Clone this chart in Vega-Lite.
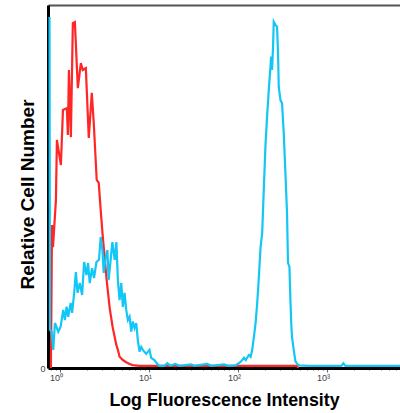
{
  "$schema": "https://vega.github.io/schema/vega-lite/v6.json",
  "autosize": {"type": "none"},
  "padding": {"left": 48, "top": 5, "right": 0, "bottom": 45},
  "width": 352,
  "height": 363,
  "background": "white",
  "config": {
    "font": "Liberation Sans",
    "view": {"stroke": null}
  },
  "data": {
    "values": [
      {"series": "control", "log_fl": -0.101, "count": 0},
      {"series": "control", "log_fl": -0.089, "count": 39.4},
      {"series": "control", "log_fl": -0.078, "count": 33.3},
      {"series": "control", "log_fl": -0.045, "count": 46.3},
      {"series": "control", "log_fl": -0.034, "count": 62.8},
      {"series": "control", "log_fl": 0.011, "count": 55.9},
      {"series": "control", "log_fl": 0.034, "count": 71.1},
      {"series": "control", "log_fl": 0.078, "count": 71.6},
      {"series": "control", "log_fl": 0.089, "count": 64.2},
      {"series": "control", "log_fl": 0.101, "count": 82.1},
      {"series": "control", "log_fl": 0.123, "count": 63.6},
      {"series": "control", "log_fl": 0.145, "count": 95.0},
      {"series": "control", "log_fl": 0.168, "count": 95.3},
      {"series": "control", "log_fl": 0.201, "count": 77.1},
      {"series": "control", "log_fl": 0.235, "count": 84.0},
      {"series": "control", "log_fl": 0.257, "count": 82.1},
      {"series": "control", "log_fl": 0.291, "count": 82.6},
      {"series": "control", "log_fl": 0.324, "count": 63.4},
      {"series": "control", "log_fl": 0.358, "count": 75.8},
      {"series": "control", "log_fl": 0.380, "count": 67.5},
      {"series": "control", "log_fl": 0.413, "count": 51.8},
      {"series": "control", "log_fl": 0.436, "count": 51.0},
      {"series": "control", "log_fl": 0.458, "count": 43.5},
      {"series": "control", "log_fl": 0.480, "count": 36.6},
      {"series": "control", "log_fl": 0.525, "count": 24.2},
      {"series": "control", "log_fl": 0.559, "count": 16.5},
      {"series": "control", "log_fl": 0.592, "count": 11.3},
      {"series": "control", "log_fl": 0.634, "count": 6.3},
      {"series": "control", "log_fl": 0.651, "count": 5.0},
      {"series": "control", "log_fl": 0.670, "count": 3.1},
      {"series": "control", "log_fl": 0.707, "count": 2.2},
      {"series": "control", "log_fl": 0.745, "count": 1.6},
      {"series": "control", "log_fl": 0.782, "count": 1.1},
      {"series": "control", "log_fl": 0.816, "count": 0.8},
      {"series": "control", "log_fl": 0.894, "count": 0.6},
      {"series": "control", "log_fl": 2.660, "count": 0.6},
      {"series": "control", "log_fl": 2.680, "count": 0},

      {"series": "stained", "log_fl": -0.117, "count": 96.7},
      {"series": "stained", "log_fl": -0.112, "count": 10.5},
      {"series": "stained", "log_fl": -0.093, "count": 10.0},
      {"series": "stained", "log_fl": -0.075, "count": 5.0},
      {"series": "stained", "log_fl": -0.056, "count": 12.4},
      {"series": "stained", "log_fl": -0.019, "count": 10.0},
      {"series": "stained", "log_fl": 0.008, "count": 11.4},
      {"series": "stained", "log_fl": 0.037, "count": 16.0},
      {"series": "stained", "log_fl": 0.056, "count": 13.2},
      {"series": "stained", "log_fl": 0.075, "count": 16.9},
      {"series": "stained", "log_fl": 0.093, "count": 14.1},
      {"series": "stained", "log_fl": 0.120, "count": 17.9},
      {"series": "stained", "log_fl": 0.137, "count": 15.2},
      {"series": "stained", "log_fl": 0.160, "count": 20.7},
      {"series": "stained", "log_fl": 0.179, "count": 26.4},
      {"series": "stained", "log_fl": 0.198, "count": 20.7},
      {"series": "stained", "log_fl": 0.223, "count": 23.4},
      {"series": "stained", "log_fl": 0.249, "count": 20.1},
      {"series": "stained", "log_fl": 0.272, "count": 29.2},
      {"series": "stained", "log_fl": 0.298, "count": 25.6},
      {"series": "stained", "log_fl": 0.316, "count": 28.9},
      {"series": "stained", "log_fl": 0.335, "count": 23.4},
      {"series": "stained", "log_fl": 0.361, "count": 27.5},
      {"series": "stained", "log_fl": 0.383, "count": 24.8},
      {"series": "stained", "log_fl": 0.410, "count": 29.2},
      {"series": "stained", "log_fl": 0.439, "count": 29.8},
      {"series": "stained", "log_fl": 0.458, "count": 36.1},
      {"series": "stained", "log_fl": 0.477, "count": 32.5},
      {"series": "stained", "log_fl": 0.492, "count": 26.2},
      {"series": "stained", "log_fl": 0.514, "count": 30.6},
      {"series": "stained", "log_fl": 0.533, "count": 32.5},
      {"series": "stained", "log_fl": 0.547, "count": 24.2},
      {"series": "stained", "log_fl": 0.566, "count": 28.9},
      {"series": "stained", "log_fl": 0.589, "count": 34.7},
      {"series": "stained", "log_fl": 0.615, "count": 29.8},
      {"series": "stained", "log_fl": 0.634, "count": 34.7},
      {"series": "stained", "log_fl": 0.651, "count": 24.2},
      {"series": "stained", "log_fl": 0.670, "count": 18.7},
      {"series": "stained", "log_fl": 0.689, "count": 23.4},
      {"series": "stained", "log_fl": 0.707, "count": 16.8},
      {"series": "stained", "log_fl": 0.726, "count": 20.7},
      {"series": "stained", "log_fl": 0.745, "count": 16.0},
      {"series": "stained", "log_fl": 0.763, "count": 13.2},
      {"series": "stained", "log_fl": 0.782, "count": 14.1},
      {"series": "stained", "log_fl": 0.801, "count": 10.0},
      {"series": "stained", "log_fl": 0.819, "count": 12.8},
      {"series": "stained", "log_fl": 0.838, "count": 11.0},
      {"series": "stained", "log_fl": 0.857, "count": 12.4},
      {"series": "stained", "log_fl": 0.875, "count": 7.7},
      {"series": "stained", "log_fl": 0.894, "count": 4.5},
      {"series": "stained", "log_fl": 0.913, "count": 5.8},
      {"series": "stained", "log_fl": 0.939, "count": 4.7},
      {"series": "stained", "log_fl": 0.969, "count": 3.9},
      {"series": "stained", "log_fl": 1.006, "count": 5.0},
      {"series": "stained", "log_fl": 1.025, "count": 2.8},
      {"series": "stained", "log_fl": 1.061, "count": 2.2},
      {"series": "stained", "log_fl": 1.098, "count": 1.0},
      {"series": "stained", "log_fl": 1.117, "count": 0.6},
      {"series": "stained", "log_fl": 1.173, "count": 0.6},
      {"series": "stained", "log_fl": 1.207, "count": 1.3},
      {"series": "stained", "log_fl": 1.240, "count": 0.6},
      {"series": "stained", "log_fl": 1.296, "count": 1.1},
      {"series": "stained", "log_fl": 1.341, "count": 0.6},
      {"series": "stained", "log_fl": 1.475, "count": 1.0},
      {"series": "stained", "log_fl": 1.508, "count": 0.6},
      {"series": "stained", "log_fl": 1.654, "count": 1.1},
      {"series": "stained", "log_fl": 1.698, "count": 0.6},
      {"series": "stained", "log_fl": 1.844, "count": 1.0},
      {"series": "stained", "log_fl": 1.888, "count": 0.6},
      {"series": "stained", "log_fl": 1.974, "count": 0.7},
      {"series": "stained", "log_fl": 2.030, "count": 1.7},
      {"series": "stained", "log_fl": 2.067, "count": 2.8},
      {"series": "stained", "log_fl": 2.086, "count": 2.2},
      {"series": "stained", "log_fl": 2.123, "count": 3.6},
      {"series": "stained", "log_fl": 2.142, "count": 3.1},
      {"series": "stained", "log_fl": 2.160, "count": 5.0},
      {"series": "stained", "log_fl": 2.179, "count": 8.6},
      {"series": "stained", "log_fl": 2.198, "count": 12.4},
      {"series": "stained", "log_fl": 2.216, "count": 17.9},
      {"series": "stained", "log_fl": 2.235, "count": 25.2},
      {"series": "stained", "log_fl": 2.254, "count": 33.4},
      {"series": "stained", "log_fl": 2.272, "count": 37.2},
      {"series": "stained", "log_fl": 2.291, "count": 49.9},
      {"series": "stained", "log_fl": 2.310, "count": 62.0},
      {"series": "stained", "log_fl": 2.327, "count": 69.2},
      {"series": "stained", "log_fl": 2.346, "count": 76.6},
      {"series": "stained", "log_fl": 2.365, "count": 83.0},
      {"series": "stained", "log_fl": 2.372, "count": 85.8},
      {"series": "stained", "log_fl": 2.383, "count": 82.1},
      {"series": "stained", "log_fl": 2.394, "count": 88.5},
      {"series": "stained", "log_fl": 2.402, "count": 95.4},
      {"series": "stained", "log_fl": 2.421, "count": 94.5},
      {"series": "stained", "log_fl": 2.439, "count": 94.0},
      {"series": "stained", "log_fl": 2.450, "count": 86.7},
      {"series": "stained", "log_fl": 2.458, "count": 77.5},
      {"series": "stained", "log_fl": 2.477, "count": 73.8},
      {"series": "stained", "log_fl": 2.495, "count": 72.9},
      {"series": "stained", "log_fl": 2.514, "count": 64.7},
      {"series": "stained", "log_fl": 2.533, "count": 53.7},
      {"series": "stained", "log_fl": 2.551, "count": 42.7},
      {"series": "stained", "log_fl": 2.562, "count": 28.9},
      {"series": "stained", "log_fl": 2.578, "count": 27.9},
      {"series": "stained", "log_fl": 2.589, "count": 18.7},
      {"series": "stained", "log_fl": 2.600, "count": 11.4},
      {"series": "stained", "log_fl": 2.607, "count": 8.6},
      {"series": "stained", "log_fl": 2.626, "count": 5.0},
      {"series": "stained", "log_fl": 2.645, "count": 1.9},
      {"series": "stained", "log_fl": 2.663, "count": 1.2},
      {"series": "stained", "log_fl": 2.682, "count": 0.7},
      {"series": "stained", "log_fl": 2.793, "count": 0.6},
      {"series": "stained", "log_fl": 3.162, "count": 0.6},
      {"series": "stained", "log_fl": 3.184, "count": 1.3},
      {"series": "stained", "log_fl": 3.207, "count": 0.6},
      {"series": "stained", "log_fl": 3.820, "count": 0.6}
    ]
  },
  "layer": [
    {
      "transform": [{"filter": "datum.series == 'control'"}],
      "mark": {"type": "line", "color": "#ff2626", "strokeWidth": 2.2, "clip": true},
      "encoding": {
        "x": {
          "field": "log_fl",
          "type": "quantitative",
          "scale": {"domain": [-0.134, 3.82], "nice": false, "zero": false},
          "axis": {
            "orient": "bottom",
            "values": [-0.09691, -0.04576, 0, 0.30103, 0.47712, 0.60206, 0.69897, 0.77815, 0.8451, 0.90309, 0.95424,
                       1, 1.30103, 1.47712, 1.60206, 1.69897, 1.77815, 1.8451, 1.90309, 1.95424,
                       2, 2.30103, 2.47712, 2.60206, 2.69897, 2.77815, 2.8451, 2.90309, 2.95424,
                       3, 3.30103, 3.47712, 3.60206, 3.69897, 3.77815],
            "labelExpr": "datum.value == 0 ? '10⁰' : datum.value == 1 ? '10¹' : datum.value == 2 ? '10²' : datum.value == 3 ? '10³' : ''",
            "labelOverlap": false,
            "labelFontSize": 9,
            "labelColor": "#444",
            "labelOffset": -4,
            "labelPadding": 1,
            "domainColor": "black",
            "domainWidth": 3,
            "tickColor": "#666",
            "tickWidth": 1,
            "tickSize": {"condition": {"test": "datum.value == round(datum.value)", "value": 4}, "value": 2},
            "grid": false,
            "title": "Log Fluorescence Intensity",
            "titleFontSize": 17.8,
            "titleFontWeight": "bold",
            "titleColor": "black",
            "titlePadding": 9
          }
        },
        "y": {
          "field": "count",
          "type": "quantitative",
          "scale": {"domain": [0, 100], "nice": false},
          "axis": {
            "values": [0],
            "grid": false,
            "ticks": false,
            "labelFontSize": 9,
            "labelColor": "#444",
            "labelPadding": 3,
            "domainColor": "black",
            "domainWidth": 3,
            "title": "Relative Cell Number",
            "titleFontSize": 19,
            "titleFontWeight": "bold",
            "titleColor": "black",
            "titlePadding": 2,
            "titleY": 189
          }
        }
      }
    },
    {
      "transform": [{"filter": "datum.series == 'stained'"}],
      "mark": {"type": "line", "color": "#12c6f6", "strokeWidth": 2.2, "clip": true},
      "encoding": {
        "x": {
          "field": "log_fl",
          "type": "quantitative",
          "axis": {
            "orient": "top",
            "labels": false,
            "ticks": false,
            "grid": false,
            "title": null,
            "domainColor": "#555",
            "domainWidth": 2
          }
        },
        "y": {"field": "count", "type": "quantitative"}
      }
    }
  ],
  "resolve": {"axis": {"x": "independent"}}
}
